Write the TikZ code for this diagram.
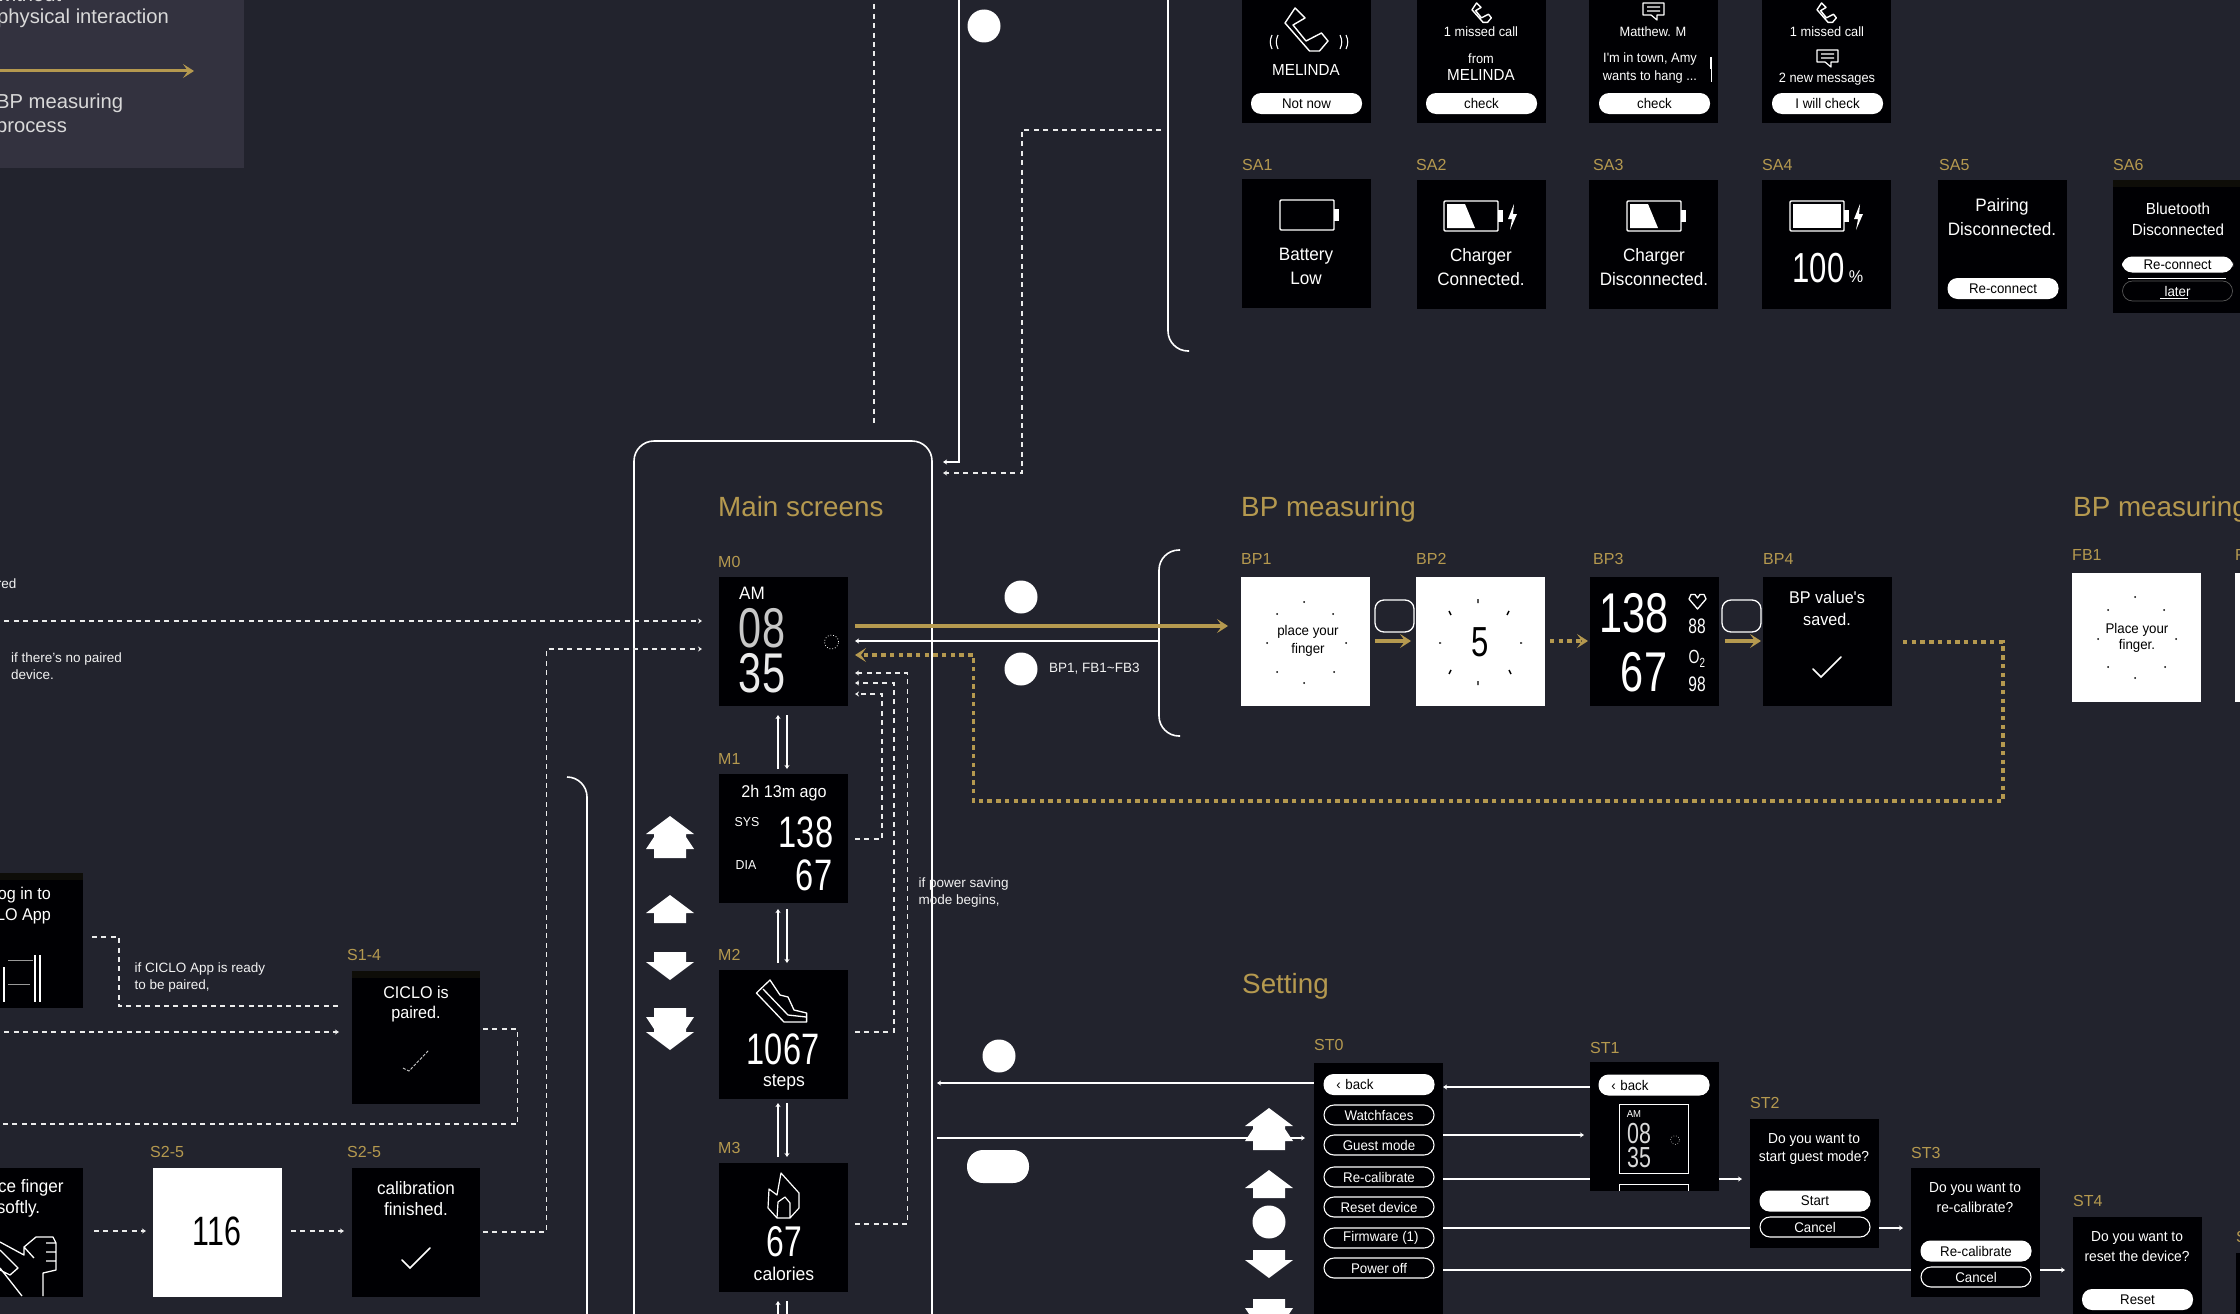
\documentclass[tikz,border=0pt]{standalone}
\usepackage{fontspec}
\usepackage{xcolor}
\usepackage{tikz}
\usetikzlibrary{arrows.meta}
\setmainfont{Liberation Sans}
\newfontfamily\scrfont[FakeStretch=0.95]{Liberation Sans}
\newfontfamily\numfont[FakeStretch=0.74]{Liberation Sans}
\newcommand{\wtxt}[1]{\scrfont\fontsize{#1}{#1}\selectfont}
\newcommand{\wnum}[1]{\numfont\fontsize{#1}{#1}\selectfont}
\definecolor{bgcol}{HTML}{22232D}
\definecolor{legendcol}{HTML}{33323F}
\definecolor{gold}{HTML}{B5994F}
\definecolor{scrcol}{HTML}{000003}
\definecolor{stripcol}{HTML}{0E0D08}
\tikzset{
upone/.pic={\fill[white] (0,0)--(24,18)--(16,18)--(16,28)--(-16,28)--(-16,18)--(-24,18)--cycle;},
uptwo/.pic={\fill[white] (0,0)--(24,18)--(16,18)--(16,21)--(24,33)--(16,33)--(16,42)--(-16,42)--(-16,33)--(-24,33)--(-16,21)--(-16,18)--(-24,18)--cycle;},
handset/.pic={\draw[white,line width=1.4pt,line join=round] (10,0)--(20,10)--(8,17)--(21,33)--(36.5,25)--(43,33)--(34.5,43)--(24.5,43)--(0,15)--cycle;},
bubble/.pic={\draw[white,line width=1.2pt,line join=round] (0,0)--(21,0)--(21,12)--(14,12)--(14,17)--(8,12)--(0,12)--cycle (4,4)--(17,4) (4,8)--(17,8);},
cell/.pic={\draw[white,line width=1.4pt,rounded corners=1pt] (0,0) rectangle (54,30);\fill[white] (54,9) rectangle (59,21);},
bolt/.pic={\fill[white] (7,0)--(1,15)--(5,15)--(3,26)--(10,10)--(6,10)--cycle;},
tick/.pic={\draw[white,line width=1.6pt,line cap=round] (0,12)--(8,20)--(28,0);}
}
\begin{document}
\begin{tikzpicture}[x=1pt,y=-1pt]
\tikzstyle{screen}=[rectangle,fill=scrcol,inner sep=0pt,minimum width=129pt,minimum height=129pt,anchor=north west];
\tikzstyle{paper}=[screen,fill=white];
\tikzstyle{tag}=[text=gold,font=\fontsize{16}{16}\selectfont,anchor=west,inner sep=0pt];
\tikzstyle{headline}=[text=gold,font=\fontsize{27.8}{28}\selectfont,anchor=base west,inner sep=0pt];
\tikzstyle{note}=[text=white!95!black,font=\fontsize{13.5}{17}\selectfont,anchor=west,align=left,inner sep=0pt];
\tikzstyle{legendtext}=[text=white!85!black,font=\fontsize{20.2}{20}\selectfont,anchor=base west,inner sep=0pt];
\tikzstyle{wt}=[text=white,font=\wtxt{13.5},inner sep=0pt];
\tikzstyle{bt}=[text=black,font=\wtxt{14},inner sep=0pt];
\tikzstyle{on}=[rectangle,rounded corners=10pt,fill=white,text=black,font=\wtxt{14},inner sep=0pt,minimum width=111pt,minimum height=21pt];
\tikzstyle{off}=[rectangle,rounded corners=10pt,draw=white,line width=1.1pt,text=white,font=\wtxt{14},inner sep=0pt,minimum width=110pt,minimum height=20pt];
\tikzstyle{blob}=[circle,fill=white,inner sep=0pt,minimum size=33pt];
\tikzstyle{wline}=[white,line width=1.1pt];
\tikzstyle{wdash}=[white!92!black,line width=1.1pt,dash pattern=on 5pt off 4.4pt];
\tikzstyle{wtip}=[-{Stealth[length=4pt,width=5pt]}];
\tikzstyle{gline}=[gold,line width=3.4pt];
\tikzstyle{gdot}=[gold,line width=3.5pt,dash pattern=on 4.4pt off 4.3pt];
\tikzstyle{gtip}=[-{Stealth[length=11pt,width=14pt,inset=5pt]}];
\tikzstyle{bracket}=[white,line width=1.6pt,rounded corners=20pt];
\useasboundingbox (0,0) rectangle (2240,1314);
\clip (0,0) rectangle (2240,1314);
\fill[bgcol] (0,0) rectangle (2240,1314);
% legend
\fill[legendcol] (0,0) rectangle (244,168);
\node[legendtext](lg1) at (-3,2) {without};
\node[legendtext](lg2) at (-3,24) {physical interaction};
\node[legendtext](lg3) at (-4,108.5) {BP measuring};
\node[legendtext](lg4) at (-4,132.5) {process};
\coordinate(lga) at (-5,71);
\coordinate(lgb) at (194,71);
\draw[gold,line width=3pt,gtip] (lga)--(lgb);
% frames
\draw[bracket] (634,1340)--(634,441)--(932,441)--(932,1340);
\draw[bracket] (1168,-30)--(1168,351)--(1189,351);
\draw[bracket] (1180,550)--(1159,550)--(1159,736)--(1180,736);
\draw[bracket] (567,777)--(587,777)--(587,1340);
% main screens
\node[headline](tm) at (718,516) {Main screens};
\node[tag](lm0) at (718,562) {M0};
\node[tag](lm1) at (718,759) {M1};
\node[tag](lm2) at (718,955) {M2};
\node[tag](lm3) at (718,1148) {M3};
\node[screen](m0) at (719,577) {};
\node[screen](m1) at (719,774) {};
\node[screen](m2) at (719,970) {};
\node[screen](m3) at (719,1163) {};
\node[wt,font=\wtxt{18}](m0a) at (752,593) {AM};
\node[wt,text=white!78!black,font=\wnum{56}](m0b) at (762,628) {08};
\node[wt,text=white!92!black,font=\wnum{56}](m0c) at (762,673) {35};
\draw[white,line width=.8pt,dotted] (831.5,642) circle (7pt);
\node[wt,font=\wtxt{17}](m1a) at (784,793) {2h 13m ago};
\node[wt,font=\wtxt{13}](m1b) at (747,822) {SYS};
\node[wt,font=\wtxt{13}](m1c) at (746,865) {DIA};
\node[wt,font=\wnum{44}](m1d) at (806,832.5) {138};
\node[wt,font=\wnum{44}](m1e) at (814,875.5) {67};
\node[wt,font=\wnum{44}](m2a) at (783,1049.5) {1067};
\node[wt,font=\wtxt{18.5}](m2b) at (784,1082) {steps};
\node[wt,font=\wnum{43}](m3a) at (784,1242) {67};
\node[wt,font=\wtxt{18.5}](m3b) at (784,1274) {calories};
\draw[white,line width=1.3pt,line join=round] (770,980)--(756.4,993)--(784,1022)--(806.6,1022)--(806.6,1013)--(794,1010)--(788,997)--(780,995)--cycle (763,989)--(788,1015)--(806,1017);
\draw[white,line width=1.2pt,line join=round] (781,1173)--(799,1193)--(799,1208)--(790,1218)--(777,1218)--(768,1208)--(769,1189)--(777,1195)--cycle (777,1218)--(778,1202)--(785,1197)--(790,1203)--(790,1218);
\coordinate(u0) at (778,769);\coordinate(u0b) at (778,715);
\coordinate(d0) at (787,715);\coordinate(d0b) at (787,769);
\coordinate(u1) at (778,963);\coordinate(u1b) at (778,909);
\coordinate(d1) at (787,909);\coordinate(d1b) at (787,963);
\coordinate(u2) at (778,1157);\coordinate(u2b) at (778,1103);
\coordinate(d2) at (787,1103);\coordinate(d2b) at (787,1157);
\coordinate(u3) at (778,1330);\coordinate(u3b) at (778,1301);
\coordinate(d3) at (787,1301);\coordinate(d3b) at (787,1330);
\draw[wline,wtip] (u0)--(u0b);\draw[wline,wtip] (d0)--(d0b);
\draw[wline,wtip] (u1)--(u1b);\draw[wline,wtip] (d1)--(d1b);
\draw[wline,wtip] (u2)--(u2b);\draw[wline,wtip] (d2)--(d2b);
\draw[wline,wtip] (u3)--(u3b);\draw[wline,wtip] (d3)--(d3b);
\pic(k1) at (670,816) {uptwo};
\pic(k2) at (670,895) {upone};
\pic[yscale=-1](k3) at (670,980) {upone};
\pic[yscale=-1](k4) at (670,1050) {uptwo};
% connectors round the main screens
\coordinate(c0) at (-5,621);\coordinate(c0b) at (702,621);
\coordinate(c1) at (483,1232);\coordinate(c1b) at (702,649);
\draw[wdash,wtip] (c0)--(c0b);
\draw[wdash,wtip] (c1)-|(546.5,649)--(c1b);
\coordinate(r1) at (855,839);\coordinate(l1) at (855,694);
\coordinate(r2) at (855,1032);\coordinate(l2) at (855,683);
\coordinate(r3) at (855,1224);\coordinate(l3) at (855,673);
\draw[wdash,wtip] (r1)--++(27,0)|-(l1);
\draw[wdash,wtip] (r2)--++(39,0)|-(l2);
\draw[wdash,wtip] (r3)--++(52.5,0)|-(l3);
\node[note](n1) at (918.5,892) {if power saving\\mode begins,};
% from the top
\coordinate(t0) at (874,-5);\coordinate(t0b) at (874,425);
\draw[wdash] (t0)--(t0b);
\coordinate(t1) at (959,-5);\coordinate(t1b) at (943,462);
\draw[wline,wtip] (t1)|-(t1b);
\coordinate(t2) at (1161,130);\coordinate(t2b) at (943,473);
\draw[wdash,wtip] (t2)-|(1022,473)--(t2b);
\node[blob](b0) at (984,26) {};
% BP measuring
\node[headline](tb) at (1241,516) {BP measuring};
\node[headline](tf) at (2073,516) {BP measuring};
\node[tag](lb1) at (1241,559) {BP1};
\node[tag](lb2) at (1416,559) {BP2};
\node[tag](lb3) at (1593,559) {BP3};
\node[tag](lb4) at (1763,559) {BP4};
\node[tag](lf1) at (2072,555) {FB1};
\node[tag](lf2) at (2235,555) {FB2};
\coordinate(g0) at (855,626);\coordinate(g0b) at (1228,626);
\coordinate(g1) at (1159,641);\coordinate(g1b) at (855,641);
\draw[gline,gtip] (g0)--(g0b);
\draw[wline,wtip] (g1)--(g1b);
\node[blob](b1) at (1021,597) {};
\node[blob](b2) at (1021,669) {};
\node[note](n2) at (1049,669) {BP1, FB1\textasciitilde FB3};
\node[paper](bp1) at (1241,577) {};
\node[paper](bp2) at (1416,577) {};
\node[screen](bp3) at (1590,577) {};
\node[screen](bp4) at (1763,577) {};
\node[paper,anchor=north west](fb1) at (2072,573) {};
\node[paper,anchor=north west](fb2) at (2235,573) {};
\fill[black] (1304,602) circle (1pt) (1333,614) circle (1pt) (1346,643) circle (1pt) (1334,672) circle (1pt) (1304,683) circle (1pt) (1277,672) circle (1pt) (1267,643) circle (1pt) (1277,614) circle (1pt);
\node[bt](bp1a) at (1308,632) {place your};
\node[bt](bp1b) at (1308,650) {finger};
\draw[black,line width=1.4pt] (1478,599)--(1478,603) (1449,611)--(1451,615) (1509,611)--(1507,615) (1439,643)--(1441,643) (1520,643)--(1522,643) (1451,670)--(1449,674) (1509,670)--(1511,674) (1478,681)--(1478,685);
\node[bt,font=\wnum{42}](bp2a) at (1480,642) {5};
\node[wt,font=\wnum{56}](bp3a) at (1634,613) {138};
\node[wt,font=\wnum{56}](bp3b) at (1644,672) {67};
\draw[white,line width=1.3pt,line join=round] (1697.5,609)--(1689,599)--(1691,594.5)--(1695,594.5)--(1697.5,598)--(1700,594.5)--(1704,594.5)--(1706,599)--cycle;
\node[wt,font=\wnum{21}](bp3c) at (1697,626) {88};
\node[wt,font=\wnum{19}](bp3d) at (1697,659) {O\textsubscript{2}};
\node[wt,font=\wnum{21}](bp3e) at (1697,684) {98};
\node[wt,font=\wtxt{17}](bp4a) at (1827,597) {BP value's};
\node[wt,font=\wtxt{17}](bp4b) at (1827,619) {saved.};
\pic(bp4c) at (1813,657) {tick};
\fill[black] (2135,597) circle (1pt) (2108,610) circle (1pt) (2164,610) circle (1pt) (2098,639) circle (1pt) (2176,639) circle (1pt) (2108,667) circle (1pt) (2165,667) circle (1pt) (2135,678) circle (1pt);
\node[bt](fb1a) at (2137,630) {Place your};
\node[bt](fb1b) at (2137,646) {finger.};
\node[rectangle,rounded corners=9pt,draw=white,line width=1.3pt,minimum width=39pt,minimum height=32pt,inner sep=0pt](w1) at (1394.5,616) {};
\node[rectangle,rounded corners=9pt,draw=white,line width=1.3pt,minimum width=39pt,minimum height=32pt,inner sep=0pt](w2) at (1741.5,616) {};
\coordinate(g2) at (1375,641);\coordinate(g2b) at (1411,641);
\coordinate(g3) at (1550,641);\coordinate(g3b) at (1588,641);
\coordinate(g4) at (1725,641);\coordinate(g4b) at (1761,641);
\coordinate(g5) at (1903,642);\coordinate(g5b) at (855,655);
\draw[gline,gtip] (g2)--(g2b);
\draw[gdot,gtip] (g3)--(g3b);
\draw[gline,gtip] (g4)--(g4b);
\draw[gdot,gtip] (g5)-|(2003,801)-|(973.5,655)--(g5b);
% alert screens
\node[screen](c1s) at (1242,-6) {};
\node[screen](c2s) at (1417,-6) {};
\node[screen](c3s) at (1589,-6) {};
\node[screen](c4s) at (1762,-6) {};
\pic(c1a) at (1285,8) {handset};
\draw[white,line width=1.1pt] (1272,35) to[bend right=25] (1272,49) (1278,35) to[bend right=25] (1278,49) (1340,35) to[bend left=25] (1340,49) (1346,35) to[bend left=25] (1346,49);
\node[wt,font=\wtxt{16}](c1b) at (1306,70) {MELINDA};
\node[on](c1c) at (1306.5,103.5) {Not now};
\pic[scale=.45](c2a) at (1472,3) {handset};
\node[wt](c2b) at (1481,32) {1 missed call};
\node[wt](c2c) at (1481,59) {from};
\node[wt,font=\wtxt{16}](c2d) at (1481,75) {MELINDA};
\node[on](c2e) at (1481.5,103.5) {check};
\pic(c3a) at (1643,3) {bubble};
\node[wt](c3b) at (1653,32) {Matthew. M};
\node[wt](c3c) at (1650,59) {I'm in town, Amy};
\node[wt](c3d) at (1650,77) {wants to hang ...};
\draw[white,line width=1.4pt] (1711,57)--(1711,69);
\draw[white,line width=.6pt] (1711,69)--(1711,82);
\node[on](c3e) at (1654.5,103.5) {check};
\pic[scale=.45](c4a) at (1817,3) {handset};
\node[wt](c4b) at (1827,32) {1 missed call};
\pic(c4c) at (1817,50) {bubble};
\node[wt](c4d) at (1827,79) {2 new messages};
\node[on](c4e) at (1827.5,103.5) {I will check};
\node[tag](ls1) at (1242,165) {SA1};
\node[tag](ls2) at (1416,165) {SA2};
\node[tag](ls3) at (1593,165) {SA3};
\node[tag](ls4) at (1762,165) {SA4};
\node[tag](ls5) at (1939,165) {SA5};
\node[tag](ls6) at (2113,165) {SA6};
\node[screen](sa1) at (1242,179) {};
\node[screen](sa2) at (1417,180) {};
\node[screen](sa3) at (1589,180) {};
\node[screen](sa4) at (1762,180) {};
\node[screen](sa5) at (1938,180) {};
\node[screen,minimum height=133pt](sa6) at (2113,180) {};
\fill[stripcol] (2113,180) rectangle (2240,187);
\pic(sa1a) at (1280,200) {cell};
\node[wt,font=\wtxt{18}](sa1b) at (1306,256) {Battery};
\node[wt,font=\wtxt{18}](sa1c) at (1306,278) {Low};
\pic(sa2a) at (1444,201) {cell};
\fill[white] (1447,204)--(1465,204)--(1475,228)--(1447,228)--cycle;
\pic(sa2b) at (1507,204) {bolt};
\node[wt,font=\wtxt{18}](sa2c) at (1481,257) {Charger};
\node[wt,font=\wtxt{18}](sa2d) at (1481,279) {Connected.};
\pic(sa3a) at (1627,201) {cell};
\fill[white] (1630,204)--(1648,204)--(1658,228)--(1630,228)--cycle;
\node[wt,font=\wtxt{18}](sa3b) at (1654,257) {Charger};
\node[wt,font=\wtxt{18}](sa3c) at (1654,279) {Disconnected.};
\pic(sa4a) at (1790,201) {cell};
\fill[white] (1793,204) rectangle (1841,228);
\pic(sa4b) at (1853,204) {bolt};
\node[wt,font=\wnum{42}](sa4c) at (1818.5,268) {100};
\node[wt,font=\wtxt{17}](sa4d) at (1856,277) {\%};
\node[wt,font=\wtxt{18}](sa5a) at (2002,207) {Pairing};
\node[wt,font=\wtxt{18}](sa5b) at (2002,229) {Disconnected.};
\node[on](sa5c) at (2003,288.5) {Re-connect};
\node[wt,font=\wtxt{16}](sa6a) at (2178,209) {Bluetooth};
\node[wt,font=\wtxt{16}](sa6b) at (2178,230) {Disconnected};
\node[on,minimum height=16pt](sa6c) at (2177.5,264.5) {Re-connect};
\draw[white,line width=1pt] (2128,278)--(2226,278);
\node[off,draw=white!35!black,line width=.7pt](sa6d) at (2177.5,291) {later};
\draw[white,line width=1pt] (2160,298)--(2188,298);
% setting
\node[headline](ts) at (1242,993) {Setting};
\node[tag](lt0) at (1314,1045) {ST0};
\node[tag](lt1) at (1590,1048) {ST1};
\node[tag](lt2) at (1750,1103) {ST2};
\node[tag](lt3) at (1911,1153) {ST3};
\node[tag](lt4) at (2073,1201) {ST4};
\node[tag](lt5) at (2236,1237) {ST5};
\coordinate(s1) at (1314,1083);\coordinate(s1b) at (937,1083);
\coordinate(s2) at (937,1138);\coordinate(s2b) at (1305,1138);
\coordinate(s3) at (1590,1087);\coordinate(s3b) at (1443,1087);
\coordinate(s4) at (1443,1135);\coordinate(s4b) at (1584,1135);
\coordinate(s5) at (1443,1179);\coordinate(s5b) at (1742,1179);
\coordinate(s6) at (1443,1228);\coordinate(s6b) at (1903,1228);
\coordinate(s7) at (1443,1270);\coordinate(s7b) at (2065,1270);
\draw[wline,wtip] (s1)--(s1b);
\draw[wline,wtip] (s2)--(s2b);
\draw[wline,wtip] (s3)--(s3b);
\draw[wline,wtip] (s4)--(s4b);
\draw[wline,wtip] (s5)--(s5b);
\draw[wline,wtip] (s6)--(s6b);
\draw[wline,wtip] (s7)--(s7b);
\node[blob](b3) at (999,1056) {};
\node[rectangle,rounded corners=16pt,fill=white,minimum width=62pt,minimum height=33pt,inner sep=0pt](b4) at (998,1166.5) {};
\pic(k5) at (1269,1108) {uptwo};
\pic(k6) at (1269,1170) {upone};
\node[blob,minimum size=33pt](k7) at (1269,1222) {};
\pic[yscale=-1](k8) at (1269,1278) {upone};
\pic[yscale=-1](k9) at (1269,1341) {uptwo};
\node[screen,minimum height=270pt](st0) at (1314,1063) {};
\node[screen](st1) at (1590,1062) {};
\node[screen](st2) at (1750,1119) {};
\node[screen](st3) at (1911,1168) {};
\node[screen,minimum height=100pt](st4) at (2073,1217) {};
\node[screen,minimum height=100pt](st5) at (2236,1253) {};
\node[on,anchor=center,text width=90pt,align=left](st0a) at (1379,1084.5) {\,‹ back};
\node[off](st0b) at (1379,1115) {Watchfaces};
\node[off](st0c) at (1379,1145) {Guest mode};
\node[off](st0d) at (1379,1177) {Re-calibrate};
\node[off](st0e) at (1379,1207) {Reset device};
\node[off](st0f) at (1379,1238) {\ Firmware (1)};
\node[off](st0g) at (1379,1268) {Power off};
\node[on,text width=90pt,align=left](st1a) at (1654,1085) {\,‹ back};
\draw[white,line width=1pt] (1619,1104) rectangle (1688,1173);
\draw[white,line width=1pt] (1619,1191)--(1619,1184)--(1688,1184)--(1688,1191);
\node[wt,font=\wtxt{10}](st1b) at (1634,1114) {AM};
\node[wt,text=white!85!black,font=\wnum{29}](st1c) at (1639,1134) {08};
\node[wt,text=white!85!black,font=\wnum{29}](st1d) at (1639,1158) {35};
\draw[white,line width=.6pt,dotted] (1675,1140) circle (4.5pt);
\node[wt,font=\wtxt{14.5}](st2a) at (1814,1140) {Do you want to};
\node[wt,font=\wtxt{14.5}](st2b) at (1814,1158) {start guest mode?};
\node[on](st2c) at (1815,1201) {Start};
\node[off](st2d) at (1815,1227) {Cancel};
\node[wt,font=\wtxt{14.5}](st3a) at (1975,1189) {Do you want to};
\node[wt,font=\wtxt{14.5}](st3b) at (1975,1207) {re-calibrate?};
\node[on](st3c) at (1976,1251) {Re-calibrate};
\node[off](st3d) at (1976,1277) {Cancel};
\node[wt,font=\wtxt{14.5}](st4a) at (2137,1238) {Do you want to};
\node[wt,font=\wtxt{14.5}](st4b) at (2137,1256) {reset the device?};
\node[on](st4c) at (2137.5,1299.5) {Reset};
% pairing screens on the left
\node[note](n3) at (11,666.5) {if there's no paired\\device.};
\node[note,anchor=east](n4) at (16.6,585.5) {paired};
\coordinate(p0) at (-.5,649);\coordinate(p0b) at (-.5,826);
\draw[wdash,white!30!bgcol] (p0)--(p0b);
\node[screen,minimum width=170pt,minimum height=135pt](p1) at (-87,873) {};
\fill[stripcol] (-87,873) rectangle (83,880);
\node[wt,font=\wtxt{17},anchor=east](p1a) at (51,895) {Log in to};
\node[wt,font=\wtxt{17},anchor=east](p1b) at (51,916) {CICLO App};
\draw[white,line width=1.3pt] (4,967)--(4,1002) (35,955)--(35,1002) (40,955)--(40,1002);
\draw[white!60!black,line width=1pt] (8,984)--(30,984) (8,960)--(33,960);
\coordinate(q1) at (92,937);\coordinate(q1b) at (339,1006);
\draw[wdash] (q1)-|(119,1006)--(q1b);
\coordinate(q2) at (-5,1032);\coordinate(q2b) at (339,1032);
\draw[wdash,wtip] (q2)--(q2b);
\node[note](n5) at (134.5,977) {if CICLO App is ready\\to be paired,};
\node[tag](l14) at (347,955) {S1-4};
\node[screen,minimum width=128pt,minimum height=133pt](s14) at (352,971) {};
\fill[stripcol] (352,971) rectangle (480,978);
\node[wt,font=\wtxt{17}](s14a) at (416,992) {CICLO is};
\node[wt,font=\wtxt{17}](s14b) at (416,1014) {paired.};
\draw[white!80!black,line width=.9pt,dash pattern=on 3pt off 1.5pt] (403,1068)--(409,1071)--(429,1050);
\coordinate(q3) at (483,1029);\coordinate(q3b) at (-5,1124);
\draw[wdash] (q3)-|(517.6,1124)--(q3b);
\node[tag](l25a) at (150,1152) {S2-5};
\node[tag](l25b) at (347,1152) {S2-5};
\node[screen](h0) at (-46,1168) {};
\node[paper](h1) at (153,1168) {};
\node[screen,minimum width=128pt](h2) at (352,1168) {};
\node[wt,font=\wtxt{18}](h0a) at (18.5,1188) {Place finger};
\node[wt,font=\wtxt{18}](h0b) at (18.5,1209) {softly.};
\draw[white,line width=1.3pt,line join=round] (0,1242)--(24,1255)--(24,1247)--(36,1237)--(53,1237)--(56,1243)--(56,1270)--(43,1273)--(43,1296) (0,1268)--(22,1296) (0,1250)--(18,1268)--(10,1275)--(0,1270) (46,1243)--(56,1243) (46,1252)--(56,1252) (46,1261)--(56,1261) (24,1247)--(34,1258);
\node[bt,font=\wnum{41}](h1a) at (217,1231) {116};
\node[wt,font=\wtxt{18}](h2a) at (416,1188) {calibration};
\node[wt,font=\wtxt{18}](h2b) at (416,1209) {finished.};
\pic(h2c) at (402,1248) {tick};
\coordinate(q4) at (94,1231);\coordinate(q4b) at (146,1231);
\coordinate(q5) at (291,1231);\coordinate(q5b) at (344,1231);
\draw[wdash,wtip] (q4)--(q4b);
\draw[wdash,wtip] (q5)--(q5b);
\end{tikzpicture}
\end{document}
